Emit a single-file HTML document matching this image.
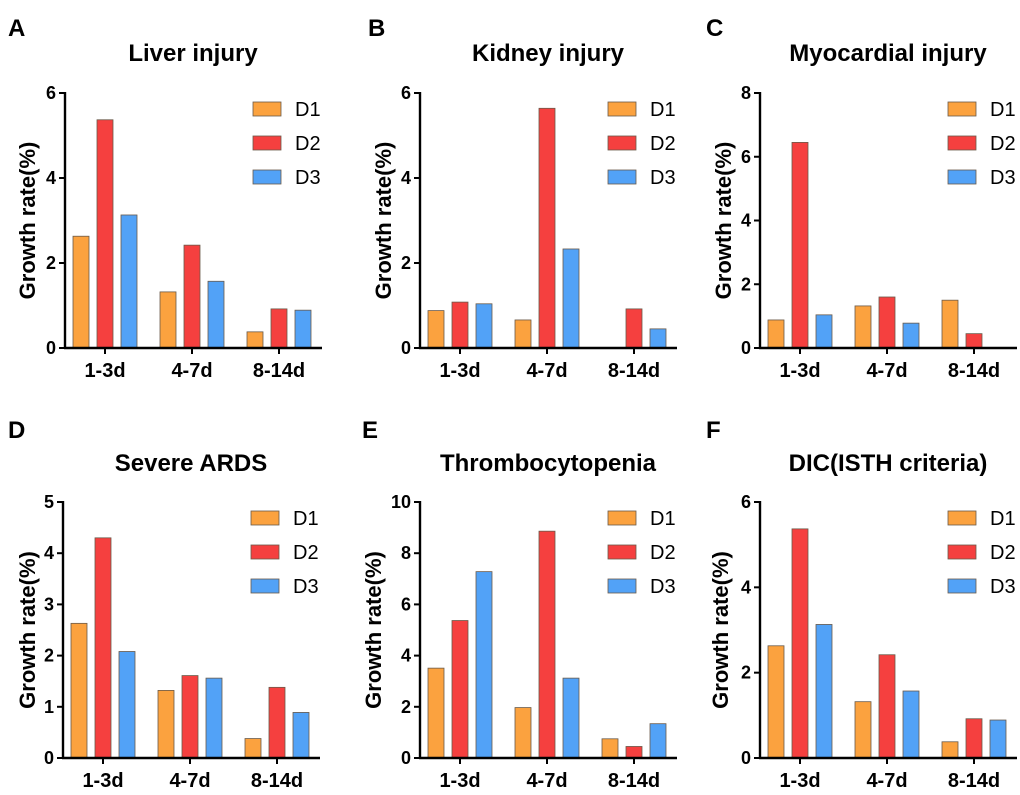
<!DOCTYPE html>
<html><head><meta charset="utf-8"><style>
body{margin:0;background:#fff;}
svg text{font-family:"Liberation Sans",Arial,sans-serif;font-weight:bold;fill:#000;}
</style></head><body>
<svg id="fig" width="1020" height="790" xmlns="http://www.w3.org/2000/svg"></svg>
<script>
const categories=["1-3d","4-7d","8-14d"];
const seriesNames=["D1","D2","D3"];
const titles=["Liver injury","Kidney injury","Myocardial injury","Severe ARDS","Thrombocytopenia","DIC(ISTH criteria)"];
const letters=["A","B","C","D","E","F"];
const yMaxes=[6,6,8,5,10,6];
const yStepTicks=[2,2,2,1,2,2];
const liverD1=[2.63,1.32,0.38],liverD2=[5.37,2.42,0.92],liverD3=[3.13,1.57,0.89];
const kidneyD1=[0.88,0.66,0],kidneyD2=[1.08,5.64,0.92],kidneyD3=[1.04,2.33,0.45];
const myoD1=[0.88,1.32,1.5],myoD2=[6.45,1.6,0.45],myoD3=[1.04,0.78,0];
const ardsD1=[2.63,1.32,0.38],ardsD2=[4.3,1.61,1.38],ardsD3=[2.08,1.56,0.89];
const thrD1=[3.51,1.97,0.75],thrD2=[5.37,8.86,0.45],thrD3=[7.28,3.12,1.34];
const dicD1=[2.63,1.32,0.38],dicD2=[5.37,2.42,0.92],dicD3=[3.13,1.57,0.89];
const panelData=[[liverD1,liverD2,liverD3],[kidneyD1,kidneyD2,kidneyD3],[myoD1,myoD2,myoD3],[ardsD1,ardsD2,ardsD3],[thrD1,thrD2,thrD3],[dicD1,dicD2,dicD3]];
const colors=["#FBA23F","#F5403F","#52A2F7"];
const NS="http://www.w3.org/2000/svg";
const svg=document.getElementById("fig");
function mk(tag,attrs,parent,txt){const e=document.createElementNS(NS,tag);for(const k in attrs)e.setAttribute(k,attrs[k]);if(txt!==undefined)e.textContent=txt;(parent||svg).appendChild(e);return e;}
const layout=[
 {ax:65,top:93,bot:348,ylab:27,letX:8,letY:36,titleY:61},
 {ax:420,top:93,bot:348,ylab:383,letX:368,letY:36,titleY:61},
 {ax:760,top:93,bot:348,ylab:723,letX:706,letY:36,titleY:61},
 {ax:63,top:502,bot:758,ylab:27,letX:8,letY:438,titleY:471},
 {ax:420,top:502,bot:758,ylab:373,letX:362,letY:438,titleY:471},
 {ax:760,top:502,bot:758,ylab:720,letX:706,letY:438,titleY:471}
];
layout.forEach((L,p)=>{
 const g=mk("g",{});
 
 
 const yScale=v=>L.bot-(v/yMaxes[p])*(L.bot-L.top);
 const xScale=i=>L.ax+40+i*87;
 const lt=mk("text",{x:L.letX,y:L.letY,"font-size":24},g,letters[p]);
 
 
 const tt=mk("text",{x:L.ax+128,y:L.titleY,"font-size":24,"text-anchor":"middle"},g,titles[p]);
 
 
 panelData[p].forEach((vals,s)=>{
  vals.forEach((v,i)=>{
   if(v<=0)return;
   const cx=xScale(i)+(s-1)*24;
   const r=mk("rect",{x:cx-8,y:yScale(v),width:16,height:L.bot-yScale(v),fill:colors[s],stroke:"#6a5a4a","stroke-width":0.8},g);
   
   
  });
 });
 const ya=mk("line",{x1:L.ax,y1:L.top-1,x2:L.ax,y2:L.bot+1,stroke:"#000","stroke-width":2.4},g);
 
 
 const xa=mk("line",{x1:L.ax-1,y1:L.bot,x2:L.ax+257,y2:L.bot,stroke:"#000","stroke-width":2.4},g);
 
 
 for(let v=0;v<=yMaxes[p]+1e-9;v+=yStepTicks[p]){
  const y=yScale(v);
  mk("line",{x1:L.ax-6,y1:y,x2:L.ax,y2:y,stroke:"#000","stroke-width":2},g);
  const t=mk("text",{x:L.ax-9,y:y+6,"font-size":18,"text-anchor":"end"},g,String(v));
  
  
 }
 categories.forEach((c,i)=>{
  const x=xScale(i);
  mk("line",{x1:x,y1:L.bot,x2:x,y2:L.bot+6,stroke:"#000","stroke-width":2},g);
  const t=mk("text",{x:x,y:L.bot+29,"font-size":20,"text-anchor":"middle"},g,c);
  
  
 });
 const yl=mk("text",{x:0,y:0,"font-size":22,"text-anchor":"middle",transform:`translate(${L.ylab+8},${(L.top+L.bot)/2}) rotate(-90)`},g,"Growth rate(%)");
 
 
 seriesNames.forEach((n,s)=>{
  const ly=L.top+16+s*34;
  const lg=mk("g",{},g);
  
  
  mk("rect",{x:L.ax+188,y:ly-7,width:28,height:14,fill:colors[s],stroke:"#6a5a4a","stroke-width":0.8},lg);
  mk("text",{x:L.ax+230,y:ly+7,"font-size":20,style:"font-weight:normal"},lg,n);
 });
});
</script>
</body></html>
